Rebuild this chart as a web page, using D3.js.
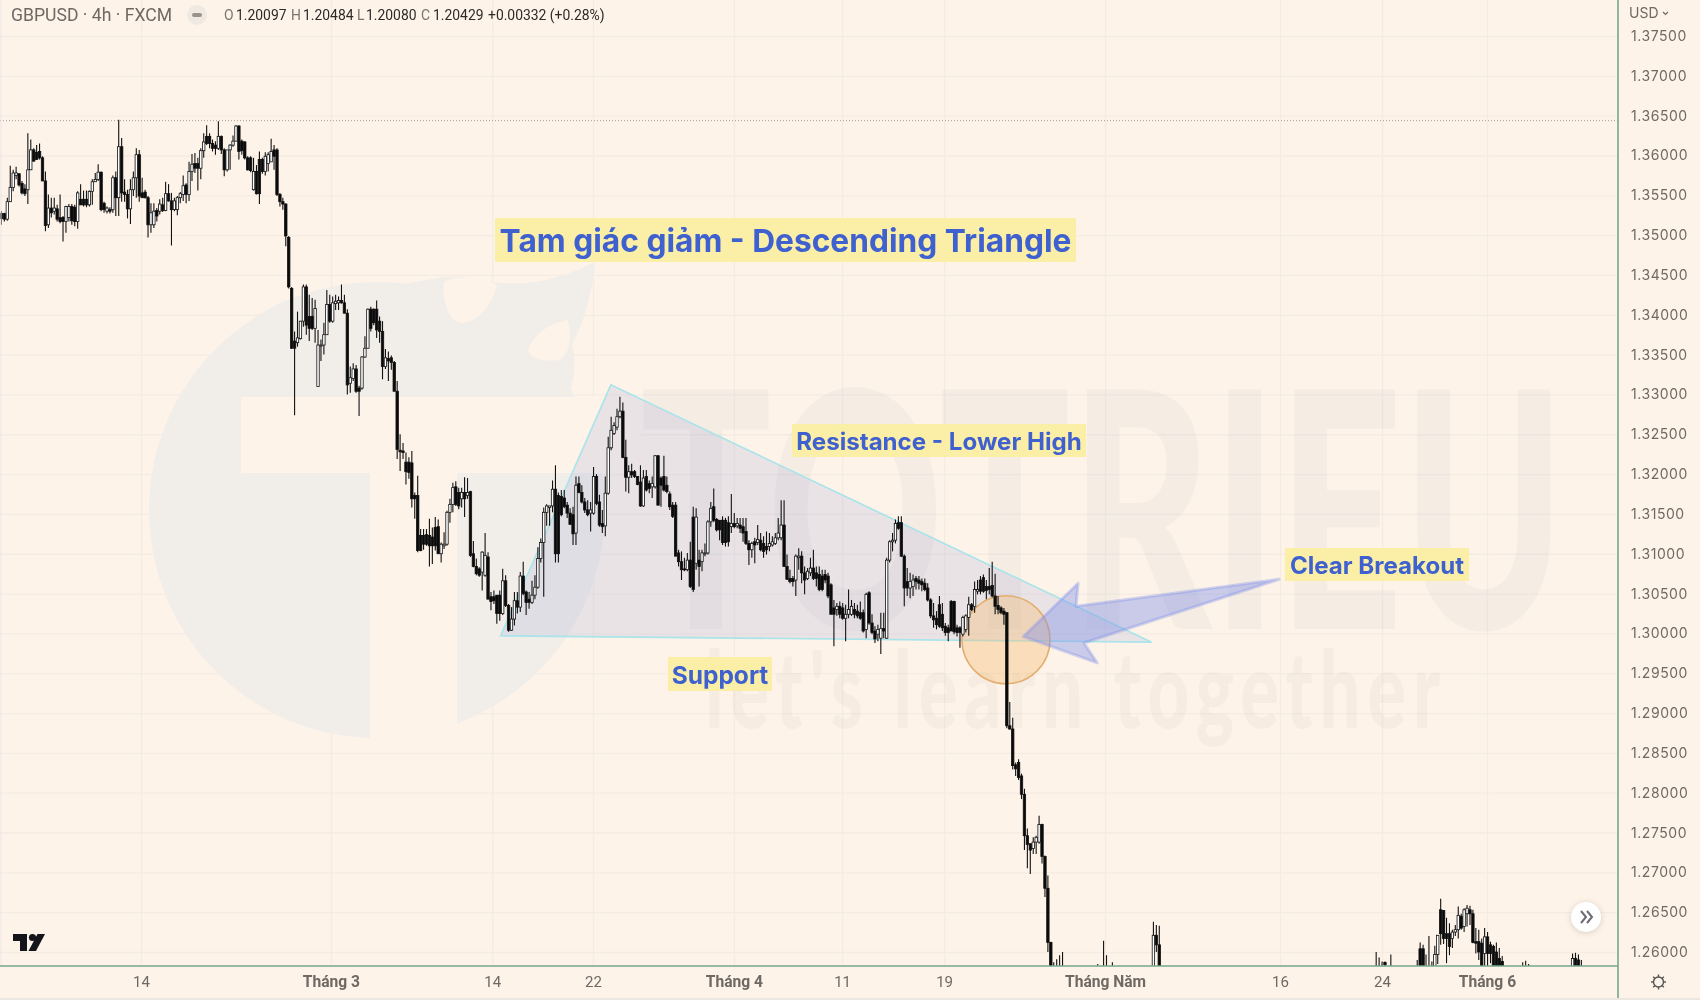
<!DOCTYPE html>
<html>
<head>
<meta charset="utf-8">
<title>GBPUSD 4h</title>
<script src="https://cdn.jsdelivr.net/npm/d3@7"></script>
<style>
  html, body { margin: 0; padding: 0; background: #fdf3e9; overflow: hidden; }
  svg { display: block; filter: blur(0.35px); }
</style>
</head>
<body>
<div id="chart"></div>
<script>
// candles as [open, high, low, close]
const febBars = [
[1.3527,1.3530,1.3513,1.3521],[1.3527,1.3528,1.3517,1.3520],[1.3520,1.3547,1.3518,1.3542],[1.3542,1.3587,1.3542,1.3560],
[1.3560,1.3582,1.3555,1.3578],[1.3575,1.3586,1.3570,1.3578],[1.3577,1.3578,1.3561,1.3563],[1.3565,1.3568,1.3551,1.3553],
[1.3558,1.3564,1.3549,1.3552],[1.3557,1.3628,1.3539,1.3582],[1.3582,1.3620,1.3582,1.3607],[1.3607,1.3609,1.3592,1.3593],
[1.3604,1.3613,1.3595,1.3595],[1.3605,1.3615,1.3595,1.3597],[1.3597,1.3599,1.3568,1.3568],[1.3568,1.3580,1.3505,1.3512],
[1.3513,1.3551,1.3509,1.3534],[1.3534,1.3547,1.3522,1.3528],[1.3530,1.3547,1.3526,1.3534],[1.3533,1.3538,1.3517,1.3520],
[1.3522,1.3551,1.3515,1.3517],[1.3522,1.3524,1.3492,1.3517],[1.3517,1.3537,1.3503,1.3536],[1.3522,1.3539,1.3517,1.3536],
[1.3536,1.3539,1.3513,1.3518],[1.3535,1.3538,1.3511,1.3517],[1.3517,1.3555,1.3508,1.3553],[1.3545,1.3564,1.3538,1.3538],
[1.3545,1.3556,1.3536,1.3538],[1.3545,1.3556,1.3535,1.3538],[1.3538,1.3556,1.3536,1.3555],[1.3555,1.3570,1.3538,1.3567],
[1.3567,1.3578,1.3567,1.3570],[1.3570,1.3589,1.3568,1.3579],[1.3579,1.3580,1.3530,1.3532],[1.3540,1.3542,1.3528,1.3532],
[1.3530,1.3536,1.3527,1.3534],[1.3532,1.3535,1.3527,1.3530],[1.3532,1.3575,1.3528,1.3572],[1.3572,1.3580,1.3524,1.3547],
[1.3547,1.3645,1.3524,1.3611],[1.3611,1.3622,1.3542,1.3553],[1.3554,1.3570,1.3542,1.3551],[1.3551,1.3557,1.3521,1.3533],
[1.3533,1.3570,1.3514,1.3557],[1.3557,1.3580,1.3549,1.3572],[1.3572,1.3609,1.3547,1.3601],[1.3601,1.3607,1.3542,1.3549],
[1.3553,1.3572,1.3547,1.3547],[1.3554,1.3557,1.3546,1.3547],[1.3547,1.3549,1.3497,1.3513],[1.3513,1.3540,1.3503,1.3528],
[1.3513,1.3540,1.3509,1.3530],[1.3531,1.3534,1.3517,1.3524],[1.3530,1.3545,1.3526,1.3539],[1.3538,1.3547,1.3529,1.3531],
[1.3531,1.3567,1.3530,1.3552],[1.3552,1.3564,1.3542,1.3543],[1.3543,1.3553,1.3487,1.3532],[1.3532,1.3547,1.3530,1.3543],
[1.3532,1.3549,1.3525,1.3547],[1.3547,1.3554,1.3540,1.3552],[1.3551,1.3575,1.3543,1.3562],[1.3563,1.3565,1.3540,1.3551],
[1.3551,1.3592,1.3543,1.3580],[1.3580,1.3602,1.3568,1.3589],[1.3590,1.3603,1.3578,1.3584],[1.3590,1.3597,1.3556,1.3584],
[1.3584,1.3609,1.3570,1.3606],[1.3606,1.3628,1.3597,1.3617],[1.3624,1.3638,1.3613,1.3615],[1.3624,1.3628,1.3609,1.3615],
[1.3615,1.3620,1.3605,1.3609],[1.3613,1.3618,1.3601,1.3609],[1.3609,1.3643,1.3607,1.3624],[1.3624,1.3625,1.3602,1.3607],
[1.3607,1.3609,1.3574,1.3582],[1.3582,1.3607,1.3580,1.3607],[1.3607,1.3614,1.3582,1.3613],[1.3613,1.3625,1.3611,1.3618],
[1.3618,1.3638,1.3618,1.3637],[1.3637,1.3638,1.3595,1.3605],[1.3618,1.3620,1.3601,1.3606],[1.3617,1.3618,1.3595,1.3597],
[1.3597,1.3599,1.3581,1.3582],[1.3597,1.3599,1.3579,1.3581],[1.3557,1.3597,1.3556,1.3580],[1.3580,1.3588,1.3551,1.3552],
[1.3595,1.3605,1.3539,1.3552],[1.3595,1.3597,1.3577,1.3580],[1.3580,1.3604,1.3575,1.3599],[1.3590,1.3604,1.3580,1.3601],
[1.3592,1.3621,1.3592,1.3605],[1.3607,1.3613,1.3582,1.3599],[1.3607,1.3609,1.3549,1.3551],[1.3551,1.3553,1.3536,1.3542],
[1.3542,1.3547,1.3532,1.3539],[1.3539,1.3540,1.3486,1.3499],[1.3497,1.3499,1.3433,1.3435],[1.3433,1.3435,1.3357,1.3358],
[1.3367,1.3379,1.3274,1.3358],[1.3365,1.3404,1.3360,1.3371],[1.3370,1.3392,1.3369,1.3392],[1.3392,1.3438,1.3385,1.3435],
[1.3435,1.3438,1.3375,1.3387],[1.3398,1.3425,1.3367,1.3383],[1.3398,1.3421,1.3381,1.3383],[1.3383,1.3419,1.3365,1.3408],
[1.3310,1.3381,1.3310,1.3362],[1.3361,1.3369,1.3342,1.3362],[1.3362,1.3390,1.3350,1.3375],[1.3375,1.3431,1.3375,1.3413],
[1.3413,1.3425,1.3390,1.3392]
];
const marBars = [
[1.3392,1.3423,1.3390,1.3415],[1.3414,1.3425,1.3406,1.3417],[1.3415,1.3423,1.3406,1.3418],[1.3418,1.3438,1.3414,1.3415],
[1.3415,1.3425,1.3402,1.3402],[1.3402,1.3407,1.3300,1.3312],[1.3314,1.3335,1.3302,1.3321],[1.3320,1.3339,1.3317,1.3332],
[1.3332,1.3337,1.3302,1.3304],[1.3308,1.3311,1.3273,1.3304],[1.3308,1.3348,1.3306,1.3347],[1.3347,1.3373,1.3346,1.3358],
[1.3358,1.3408,1.3358,1.3407],[1.3407,1.3410,1.3379,1.3383],[1.3407,1.3408,1.3387,1.3390],[1.3407,1.3418,1.3371,1.3381],
[1.3392,1.3398,1.3365,1.3379],[1.3379,1.3392,1.3319,1.3335],[1.3335,1.3357,1.3332,1.3346],[1.3345,1.3354,1.3317,1.3342],
[1.3346,1.3349,1.3331,1.3340],[1.3340,1.3342,1.3304,1.3304],[1.3304,1.3317,1.3219,1.3231],[1.3230,1.3250,1.3204,1.3228],
[1.3229,1.3239,1.3219,1.3227],[1.3215,1.3227,1.3187,1.3203],[1.3215,1.3221,1.3194,1.3202],[1.3214,1.3229,1.3158,1.3169],
[1.3173,1.3177,1.3144,1.3169],[1.3173,1.3198,1.3102,1.3104],[1.3123,1.3131,1.3103,1.3104],[1.3123,1.3131,1.3105,1.3112],
[1.3124,1.3131,1.3110,1.3112],[1.3123,1.3144,1.3084,1.3110],[1.3121,1.3133,1.3087,1.3110],[1.3133,1.3146,1.3104,1.3110],
[1.3134,1.3143,1.3100,1.3100],[1.3100,1.3114,1.3089,1.3112],[1.3110,1.3127,1.3106,1.3112],[1.3112,1.3154,1.3110,1.3152],
[1.3152,1.3169,1.3139,1.3162],[1.3162,1.3189,1.3152,1.3183],[1.3184,1.3191,1.3160,1.3162],[1.3177,1.3183,1.3156,1.3160],
[1.3169,1.3183,1.3158,1.3177],[1.3177,1.3196,1.3146,1.3169],[1.3173,1.3195,1.3169,1.3177],[1.3178,1.3179,1.3096,1.3098],
[1.3100,1.3116,1.3083,1.3084],[1.3084,1.3094,1.3073,1.3075],[1.3081,1.3083,1.3071,1.3073],[1.3077,1.3103,1.3054,1.3102],
[1.3073,1.3126,1.3071,1.3098],[1.3096,1.3102,1.3043,1.3043],[1.3046,1.3052,1.3029,1.3040],[1.3046,1.3054,1.3037,1.3041],
[1.3048,1.3048,1.3012,1.3025],[1.3048,1.3054,1.3016,1.3025],[1.3025,1.3081,1.3023,1.3066],[1.3066,1.3073,1.3033,1.3035],
[1.3035,1.3037,1.3002,1.3004],[1.3004,1.3033,1.3003,1.3018],[1.3018,1.3052,1.3010,1.3041],[1.3041,1.3052,1.3025,1.3033],
[1.3033,1.3077,1.3027,1.3072],[1.3072,1.3090,1.3048,1.3050],[1.3052,1.3054,1.3023,1.3039],[1.3043,1.3052,1.3031,1.3039],
[1.3039,1.3066,1.3037,1.3048],[1.3048,1.3073,1.3043,1.3058],[1.3058,1.3108,1.3056,1.3094],[1.3094,1.3119,1.3089,1.3114],
[1.3114,1.3158,1.3046,1.3152],[1.3152,1.3162,1.3135,1.3160],[1.3158,1.3160,1.3135,1.3160],[1.3160,1.3192,1.3152,1.3181],
[1.3181,1.3211,1.3089,1.3100],[1.3173,1.3177,1.3089,1.3100],[1.3172,1.3180,1.3147,1.3149],[1.3170,1.3180,1.3157,1.3159],
[1.3161,1.3165,1.3145,1.3151],[1.3151,1.3157,1.3136,1.3137],[1.3149,1.3159,1.3111,1.3125],[1.3126,1.3197,1.3111,1.3186],
[1.3188,1.3197,1.3176,1.3177],[1.3177,1.3186,1.3163,1.3165],[1.3165,1.3170,1.3151,1.3155],[1.3155,1.3167,1.3147,1.3149],
[1.3151,1.3165,1.3128,1.3155],[1.3151,1.3209,1.3149,1.3197],[1.3197,1.3200,1.3161,1.3163],[1.3165,1.3174,1.3134,1.3136],
[1.3138,1.3155,1.3126,1.3134],[1.3135,1.3197,1.3122,1.3176],[1.3176,1.3247,1.3174,1.3233],[1.3233,1.3272,1.3230,1.3255],
[1.3251,1.3265,1.3249,1.3261],[1.3259,1.3282,1.3255,1.3272],[1.3272,1.3297,1.3270,1.3279],[1.3279,1.3290,1.3220,1.3221],
[1.3221,1.3243,1.3178,1.3196],[1.3196,1.3211,1.3176,1.3203],[1.3203,1.3213,1.3195,1.3199],[1.3203,1.3205,1.3195,1.3197],
[1.3197,1.3197,1.3186,1.3187],[1.3190,1.3211,1.3159,1.3160],[1.3160,1.3205,1.3159,1.3195],[1.3197,1.3205,1.3178,1.3180],
[1.3188,1.3192,1.3176,1.3182],[1.3184,1.3197,1.3170,1.3188],[1.3184,1.3224,1.3182,1.3223],[1.3223,1.3224,1.3161,1.3161],
[1.3195,1.3197,1.3159,1.3186],[1.3197,1.3223,1.3178,1.3180],[1.3186,1.3197,1.3176,1.3178],[1.3175,1.3178,1.3155,1.3159],
[1.3161,1.3165,1.3145,1.3147],[1.3161,1.3165,1.3097,1.3097],[1.3101,1.3105,1.3084,1.3090],[1.3090,1.3103,1.3067,1.3080],
[1.3081,1.3095,1.3078,1.3080],[1.3080,1.3101,1.3078,1.3092],[1.3092,1.3115,1.3057,1.3059],[1.3146,1.3159,1.3052,1.3055],
[1.3088,1.3157,1.3080,1.3146],[1.3092,1.3105,1.3059,1.3084],[1.3090,1.3105,1.3078,1.3101],[1.3100,1.3113,1.3097,1.3101],
[1.3101,1.3142,1.3099,1.3140],[1.3140,1.3165,1.3134,1.3157],[1.3159,1.3182,1.3140,1.3142],[1.3143,1.3145,1.3128,1.3130],
[1.3142,1.3142,1.3117,1.3130],[1.3142,1.3147,1.3111,1.3114],[1.3142,1.3145,1.3109,1.3114],[1.3139,1.3147,1.3109,1.3115],
[1.3134,1.3175,1.3126,1.3138],[1.3138,1.3151,1.3132,1.3134]
];
const aprBars = [
[1.3135,1.3145,1.3132,1.3138],[1.3136,1.3145,1.3126,1.3132],[1.3134,1.3145,1.3115,1.3126],[1.3128,1.3145,1.3111,1.3113],
[1.3113,1.3117,1.3086,1.3105],[1.3105,1.3115,1.3095,1.3113],[1.3115,1.3120,1.3088,1.3111],[1.3114,1.3136,1.3111,1.3118],
[1.3117,1.3126,1.3103,1.3105],[1.3113,1.3122,1.3095,1.3103],[1.3109,1.3128,1.3099,1.3105],[1.3109,1.3126,1.3103,1.3113],
[1.3111,1.3122,1.3109,1.3115],[1.3113,1.3126,1.3111,1.3120],[1.3120,1.3145,1.3117,1.3126],[1.3120,1.3167,1.3117,1.3136],
[1.3136,1.3167,1.3084,1.3084],[1.3084,1.3099,1.3067,1.3068],[1.3069,1.3080,1.3063,1.3065],[1.3069,1.3072,1.3059,1.3065],
[1.3067,1.3099,1.3047,1.3097],[1.3095,1.3107,1.3080,1.3097],[1.3097,1.3103,1.3063,1.3076],[1.3076,1.3084,1.3049,1.3067],
[1.3069,1.3082,1.3067,1.3078],[1.3076,1.3095,1.3072,1.3082],[1.3082,1.3105,1.3067,1.3069],[1.3076,1.3084,1.3059,1.3069],
[1.3074,1.3084,1.3053,1.3055],[1.3072,1.3080,1.3053,1.3055],[1.3074,1.3080,1.3063,1.3067],[1.3072,1.3076,1.3044,1.3047],
[1.3061,1.3063,1.3024,1.3024],[1.3032,1.3042,1.2984,1.3024],[1.3030,1.3038,1.3022,1.3034],[1.3034,1.3040,1.3019,1.3024],
[1.3032,1.3038,1.3017,1.3019],[1.3019,1.3036,1.2990,1.3024],[1.3024,1.3055,1.3019,1.3030],[1.3024,1.3042,1.3022,1.3034],
[1.3030,1.3038,1.3019,1.3024],[1.3028,1.3036,1.3019,1.3022],[1.3026,1.3040,1.3017,1.3019],[1.3026,1.3030,1.3001,1.3003],
[1.3005,1.3051,1.2994,1.3049],[1.3051,1.3053,1.3011,1.3013],[1.3013,1.3024,1.2999,1.3001],[1.3003,1.3009,1.2988,1.2993],
[1.2999,1.3011,1.2990,1.3005],[1.2994,1.3026,1.2974,1.3006],[1.3006,1.3026,1.2994,1.3003],[1.2994,1.3095,1.2993,1.3092],
[1.3092,1.3117,1.3089,1.3115],[1.3115,1.3126,1.3103,1.3117],[1.3117,1.3143,1.3113,1.3138],[1.3139,1.3147,1.3130,1.3132],
[1.3139,1.3147,1.3096,1.3097],[1.3097,1.3099,1.3034,1.3057],[1.3065,1.3082,1.3047,1.3057],[1.3057,1.3076,1.3044,1.3065],
[1.3059,1.3074,1.3047,1.3067],[1.3069,1.3072,1.3055,1.3065],[1.3067,1.3072,1.3055,1.3063],[1.3065,1.3069,1.3053,1.3061],
[1.3063,1.3069,1.3053,1.3055],[1.3057,1.3063,1.3040,1.3042],[1.3042,1.3044,1.3019,1.3022],[1.3022,1.3038,1.3007,1.3017],
[1.3019,1.3028,1.3005,1.3011],[1.3036,1.3047,1.3007,1.3009],[1.3024,1.3038,1.3003,1.3007],[1.3009,1.3013,1.2997,1.3001],
[1.3007,1.3011,1.2990,1.3001],[1.3040,1.3042,1.3003,1.3003],[1.3040,1.3041,1.2999,1.3002],[1.3007,1.3011,1.2996,1.3001],
[1.3007,1.3009,1.2982,1.3001],[1.2999,1.3022,1.2996,1.3020],[1.3005,1.3024,1.3001,1.3022],[1.3020,1.3046,1.2997,1.3036],
[1.3036,1.3038,1.3028,1.3030],[1.3034,1.3065,1.3026,1.3055],[1.3053,1.3067,1.3049,1.3055],[1.3067,1.3072,1.3049,1.3053],
[1.3070,1.3074,1.3051,1.3053],[1.3059,1.3067,1.3043,1.3054],[1.3059,1.3082,1.3049,1.3055],[1.3060,1.3090,1.3045,1.3047],
[1.3047,1.3075,1.3024,1.3034],[1.3035,1.3047,1.3024,1.3030],[1.3032,1.3034,1.3024,1.3026],[1.3028,1.3032,1.3011,1.3024],
[1.3026,1.3027,1.2881,1.2884],[1.2884,1.2914,1.2879,1.2880],[1.2880,1.2894,1.2829,1.2834],[1.2835,1.2838,1.2821,1.2830],
[1.2838,1.2842,1.2816,1.2819],[1.2821,1.2824,1.2792,1.2798],[1.2798,1.2805,1.2728,1.2746],[1.2746,1.2755,1.2705,1.2735],
[1.2736,1.2736,1.2698,1.2728],[1.2730,1.2744,1.2723,1.2738],[1.2738,1.2746,1.2723,1.2744],[1.2738,1.2771,1.2736,1.2760],
[1.2760,1.2761,1.2711,1.2720],[1.2720,1.2721,1.2669,1.2680],[1.2680,1.2696,1.2600,1.2612],[1.2612,1.2613,1.2570,1.2577],
[1.2575,1.2587,1.2565,1.2570],[1.2570,1.2591,1.2560,1.2578],[1.2578,1.2596,1.2565,1.2570],[1.2570,1.2600,1.2560,1.2575]
];
// later bars mostly sit below the visible range, only these poke above it
const lateBarIdx = [374,376,377,379,393,394,395,469,470,471,472,474,483,484,485,486,487,488,489,490,491,492,493,494,495,496,497,498,499,500,501,502,503,504,505,506,507,508,509,510,511,512,519,520,521,536,537,538,539];
const lateBars = [
[1.2570,1.2585,1.2560,1.2575],[1.2575,1.2614,1.2560,1.2570],[1.2570,1.2596,1.2560,1.2572],[1.2572,1.2587,1.2562,1.2570],
[1.2575,1.2638,1.2565,1.2621],[1.2621,1.2634,1.2600,1.2609],[1.2609,1.2633,1.2570,1.2575],
[1.2570,1.2600,1.2560,1.2575],[1.2575,1.2593,1.2565,1.2570],[1.2570,1.2588,1.2565,1.2578],[1.2587,1.2588,1.2575,1.2584],[1.2575,1.2597,1.2560,1.2570],
[1.2570,1.2590,1.2560,1.2575],[1.2604,1.2612,1.2570,1.2578],[1.2604,1.2609,1.2570,1.2575],[1.2578,1.2597,1.2570,1.2575],[1.2575,1.2620,1.2565,1.2572],
[1.2570,1.2588,1.2565,1.2580],[1.2578,1.2608,1.2570,1.2597],[1.2597,1.2621,1.2585,1.2621],[1.2653,1.2667,1.2609,1.2623],[1.2652,1.2652,1.2610,1.2617],
[1.2623,1.2643,1.2586,1.2617],[1.2623,1.2636,1.2596,1.2607],[1.2617,1.2628,1.2605,1.2625],[1.2625,1.2634,1.2620,1.2628],[1.2628,1.2657,1.2617,1.2646],
[1.2645,1.2648,1.2628,1.2630],[1.2632,1.2655,1.2625,1.2653],[1.2648,1.2659,1.2632,1.2655],[1.2653,1.2658,1.2634,1.2648],[1.2648,1.2653,1.2611,1.2612],
[1.2613,1.2630,1.2598,1.2611],[1.2613,1.2628,1.2590,1.2600],[1.2611,1.2617,1.2570,1.2578],[1.2598,1.2630,1.2578,1.2619],[1.2619,1.2625,1.2575,1.2598],
[1.2609,1.2613,1.2586,1.2598],[1.2607,1.2609,1.2570,1.2578],[1.2600,1.2612,1.2572,1.2578],[1.2592,1.2605,1.2575,1.2578],[1.2588,1.2595,1.2575,1.2578],
[1.2575,1.2587,1.2570,1.2578],[1.2578,1.2589,1.2570,1.2575],[1.2575,1.2585,1.2570,1.2578],
[1.2578,1.2598,1.2570,1.2592],[1.2592,1.2599,1.2575,1.2578],[1.2590,1.2597,1.2575,1.2578],[1.2578,1.2590,1.2572,1.2575]
];

const priceTicks = [1.375,1.37,1.365,1.36,1.355,1.35,1.345,1.34,1.335,1.33,1.325,1.32,1.315,1.31,1.305,1.3,1.295,1.29,1.285,1.28,1.275,1.27,1.265,1.26];
const timeTickBars = [48.1,112.9,167.9,202.3,250.4,287.3,322.1,377,436.7,471.5,507.3];
const timeTickLabels = ["14","Tháng 3","14","22","Tháng 4","11","19","Tháng Năm","16","24","Tháng 6"];

// drawings on the chart, [bar, price]
const trianglePts = [[170.3,1.2997],[207.9,1.3312],[392.4,1.2989]];
const arrowPts = [[348.6,1.2996],[367.3,1.3063],[366.6,1.3034],[435.9,1.3068],[369.3,1.2988],[373.8,1.2963]];
const breakoutPt = [342.7,1.2992];
const lastHigh = 1.36437;

const legendParts = [
  {t:"O",x:224,dim:true},{t:"1.20097",x:236},{t:"H",x:291,dim:true},{t:"1.20484",x:303},
  {t:"L",x:357,dim:true},{t:"1.20080",x:366},{t:"C",x:421,dim:true},{t:"1.20429",x:433},{t:"+0.00332 (+0.28%)",x:488}
];
const notes = [
  {t:"Tam giác giảm - Descending Triangle",x0:495,x1:1076,y0:218,y1:262,size:31.7},
  {t:"Resistance - Lower High",x0:792,x1:1086,y0:424,y1:457,size:24.1},
  {t:"Support",x0:668,x1:772,y0:657,y1:691,size:24.5},
  {t:"Clear Breakout",x0:1285,x1:1469,y0:548,y1:581,size:24.1}
];

const bg = "#fdf3e9", wmGray = "#f1ede9", gridCol = "#f4ebe3", axisGreen = "#76a78c", textCol = "#6f6963";
const W = 1700, H = 1000, plotR = 1618, plotB = 966;

const x = d3.scaleLinear().domain([0,552]).range([0,plotR]);
const y = d3.scaleLinear().domain([1.375,1.26]).range([36,952]);
const cx = i => x(i + 0.5);

const mainBars = febBars.concat(marBars, aprBars).map((d,i) => ({i:i,o:d[0],h:d[1],l:d[2],c:d[3]}));
const laterBars = lateBars.map((d,k) => ({i:lateBarIdx[k],o:d[0],h:d[1],l:d[2],c:d[3]}));
const candles = mainBars.concat(laterBars);

const svg = d3.select("#chart").append("svg").attr("width",W).attr("height",H);
svg.append("rect").attr("width",W).attr("height",H).attr("fill",bg);

svg.append("defs").append("clipPath").attr("id","plot")
  .append("rect").attr("width",plotR).attr("height",plotB);

const plot = svg.append("g").attr("clip-path","url(#plot)");

// gridlines
const yGrid = plot.append("g").call(d3.axisRight(y).tickValues(priceTicks).tickSize(plotR).tickFormat(""));
const xGrid = plot.append("g").call(d3.axisBottom(x).tickValues(timeTickBars).tickSize(plotB).tickFormat(""));
yGrid.select(".domain").remove();
xGrid.select(".domain").remove();
plot.selectAll("line").attr("stroke",gridCol).attr("stroke-width",1.3);

// watermark logo
const wm = plot.append("g");
wm.append("circle").attr("cx",377).attr("cy",510).attr("r",228).attr("fill",wmGray);
wm.append("path").attr("fill",wmGray)
  .attr("d","M400,285 C440,278 445,275 470,278 C500,285 540,290 595,262 C592,300 580,330 572,345 C578,370 572,385 568,397 L380,397 Z");
wm.append("path").attr("fill",bg)
  .attr("d","M444,282 C452,276 480,275 497,285 C492,305 478,322 462,323 C448,322 442,300 444,282 Z");
wm.append("path").attr("fill",bg)
  .attr("d","M528,350 C535,330 555,322 568,320 C572,340 570,352 560,360 C545,362 530,360 528,350 Z");
wm.append("rect").attr("x",241).attr("y",397).attr("width",400).attr("height",76).attr("fill",bg);
wm.append("rect").attr("x",370).attr("y",473).attr("width",87).attr("height",270).attr("fill",bg);

// squeeze a watermark word to the width it has in the picture
function squeeze(sel, x0, base, width) {
  const natural = sel.node().getComputedTextLength();
  sel.attr("transform","translate(" + x0 + "," + base + ") scale(" + (width / natural) + ",1)");
}
const wmBig = wm.append("text").text("TOTRIEU")
  .attr("font-family","Lato, sans-serif").attr("font-weight",900).attr("font-size",330)
  .attr("fill","#5a6a8a").attr("opacity",0.045);
squeeze(wmBig,640,629,925);
const wmSmall = wm.append("text").text("let's learn together")
  .attr("font-family","Lato, sans-serif").attr("font-weight",900).attr("font-size",106).attr("letter-spacing",10)
  .attr("fill","#6a5f55").attr("opacity",0.045);
squeeze(wmSmall,705,728,742);

// triangle and breakout drawings sit under the candles
const ptStr = pts => pts.map(p => cx(p[0]) + "," + y(p[1])).join(" ");
plot.append("polygon").attr("points",ptStr(trianglePts))
  .attr("fill","#6f7fd0").attr("fill-opacity",0.13)
  .attr("stroke","#a8e4ea").attr("stroke-width",1.6);
plot.append("circle").attr("cx",cx(breakoutPt[0])).attr("cy",y(breakoutPt[1])).attr("r",44)
  .attr("fill","#f4bc74").attr("fill-opacity",0.38).attr("stroke","#e3ae70").attr("stroke-width",1.5);
plot.append("polygon").attr("points",ptStr(arrowPts))
  .attr("fill","#7d8fe8").attr("fill-opacity",0.4)
  .attr("stroke","#7d8fe8").attr("stroke-opacity",0.35).attr("stroke-width",3).attr("stroke-linejoin","round");

// dotted line on the last high
plot.append("line").attr("x1",0).attr("x2",plotR).attr("y1",y(lastHigh)).attr("y2",y(lastHigh))
  .attr("stroke","#a39c95").attr("stroke-dasharray","1 2").attr("stroke-width",1);

const bar = plot.append("g").selectAll("g").data(candles).enter().append("g");
bar.append("line")
  .attr("x1",d => cx(d.i)).attr("x2",d => cx(d.i))
  .attr("y1",d => y(d.h)).attr("y2",d => y(d.l))
  .attr("stroke","#111").attr("stroke-width",1.1);
bar.append("rect")
  .attr("x",d => cx(d.i) - 1.2)
  .attr("width",2.4)
  .attr("y",d => y(Math.max(d.o,d.c)))
  .attr("height",d => Math.max(1,Math.abs(y(d.o) - y(d.c))))
  .attr("fill",d => d.c > d.o ? "#fff" : "#0a0a0a")
  .attr("stroke","#111").attr("stroke-width",0.8);

// yellow note labels
const note = svg.append("g").selectAll("g").data(notes).enter().append("g");
note.append("rect").attr("x",d => d.x0).attr("y",d => d.y0)
  .attr("width",d => d.x1 - d.x0).attr("height",d => d.y1 - d.y0).attr("fill","#fbefa8");
note.append("text").text(d => d.t)
  .attr("x",d => (d.x0 + d.x1) / 2).attr("y",d => (d.y0 + d.y1) / 2 + d.size * 0.39)
  .attr("text-anchor","middle").attr("font-family","Inter, sans-serif").attr("font-weight",700)
  .attr("font-size",d => d.size).attr("fill","#3f60cf");

// price and time labels
const yAxis = svg.append("g").attr("transform","translate(" + plotR + ",0)")
  .call(d3.axisRight(y).tickValues(priceTicks).tickFormat(d3.format(".5f")).tickSize(0).tickPadding(13));
const xAxis = svg.append("g").attr("transform","translate(0," + plotB + ")")
  .call(d3.axisBottom(x).tickValues(timeTickBars).tickFormat((d,i) => timeTickLabels[i]).tickSize(0).tickPadding(10));
yAxis.select(".domain").remove();
xAxis.select(".domain").remove();
yAxis.selectAll("text").attr("font-family","Inter, sans-serif").attr("font-size",14).attr("fill",textCol).attr("letter-spacing","0.55");
xAxis.selectAll("text").attr("font-family","Roboto, sans-serif").attr("fill",textCol)
  .attr("font-size",(d,i) => timeTickLabels[i].startsWith("Tháng") ? 15.6 : 15)
  .attr("font-weight",(d,i) => timeTickLabels[i].startsWith("Tháng") ? 700 : 400);

// chart frame
svg.append("line").attr("x1",1).attr("x2",1).attr("y1",0).attr("y2",plotB).attr("stroke","#ebe6e6");
svg.append("line").attr("x1",plotR).attr("x2",plotR).attr("y1",0).attr("y2",H - 2).attr("stroke",axisGreen).attr("stroke-width",1.6);
svg.append("line").attr("x1",0).attr("x2",plotR).attr("y1",plotB).attr("y2",plotB).attr("stroke",axisGreen).attr("stroke-width",1.6);
svg.append("line").attr("x1",0).attr("x2",W).attr("y1",H - 1).attr("y2",H - 1).attr("stroke","#ebe6e0").attr("stroke-width",2);

// header
svg.append("text").text("GBPUSD · 4h · FXCM").attr("x",11).attr("y",21)
  .attr("font-family","Roboto, sans-serif").attr("font-size",17.6).attr("fill",textCol);
svg.append("circle").attr("cx",197).attr("cy",15).attr("r",10).attr("fill","#efe9e2");
svg.append("rect").attr("x",192).attr("y",13).attr("width",10).attr("height",4).attr("rx",2).attr("fill","#98928c");
svg.append("g").selectAll("text").data(legendParts).enter().append("text")
  .text(d => d.t).attr("x",d => d.x).attr("y",20)
  .attr("font-family","Roboto, sans-serif").attr("font-size",13.9)
  .attr("fill",d => d.dim ? "#7b756f" : "#2d2a28");

svg.append("text").text("USD").attr("x",1629).attr("y",18)
  .attr("font-family","Inter, sans-serif").attr("font-size",14).attr("fill",textCol);
svg.append("path").attr("d","M1663,12 l2.5,2.5 l2.5,-2.5").attr("fill","none").attr("stroke",textCol).attr("stroke-width",1.2);

// TradingView mark
const tv = svg.append("g").attr("fill","#14141a");
tv.append("path").attr("d","M13,934 H27 V951 H20 V941 H13 Z");
tv.append("circle").attr("cx",32.5).attr("cy",937.5).attr("r",3.6);
tv.append("path").attr("d","M37.5,934 H45 L36,951 H28.5 Z");

// scroll button
svg.append("circle").attr("cx",1586).attr("cy",917).attr("r",15).attr("fill","#fff")
  .style("filter","drop-shadow(0 1px 3px rgba(0,0,0,0.15))");
svg.append("path").attr("d","M1581,911 l5,6 l-5,6 M1587,911 l5,6 l-5,6").attr("fill","none")
  .attr("stroke","#6d6a72").attr("stroke-width",2);

// settings gear
const gear = svg.append("g").attr("transform","translate(1658.5,982)").attr("stroke","#555").attr("fill","none").attr("stroke-width",1.4);
gear.append("circle").attr("r",5);
d3.range(0,360,45).forEach(a => {
  gear.append("line").attr("y1",-5).attr("y2",-7.5).attr("transform","rotate(" + a + ")");
});
</script>
</body>
</html>
